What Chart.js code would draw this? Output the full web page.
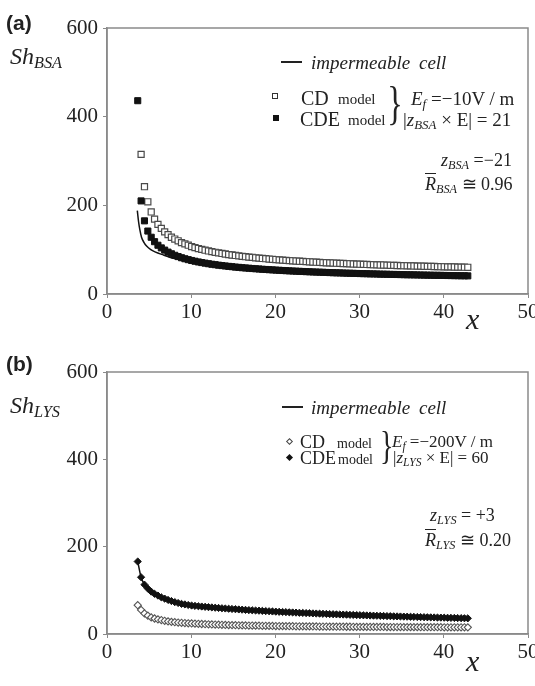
<!DOCTYPE html>
<html>
<head>
<meta charset="utf-8">
<script src="https://cdn.jsdelivr.net/npm/chart.js@4.4.1/dist/chart.umd.min.js"></script>
<style>
  body { margin: 0; background: #fff; }
  #wrap { position: relative; width: 535px; height: 686px; overflow: hidden; font-family: "Liberation Serif", serif; color: #222; }
  canvas { position: absolute; left: 0; }
  .t { position: absolute; white-space: nowrap; line-height: 1; }
  .i { font-style: italic; }
  sub { font-size: 0.68em; vertical-align: -0.25em; line-height: 0; }
  .panel { font-family: "Liberation Sans", Arial, sans-serif; font-weight: bold; font-size: 21px; }
  .dash { position: absolute; height: 2px; background: #222; width: 21px; }
  .mk { position: absolute; box-sizing: border-box; }
</style>
</head>
<body>
<div id="wrap">
  <canvas id="chartA" width="535" height="343" style="top:0"></canvas>
  <canvas id="chartB" width="535" height="343" style="top:343px"></canvas>

  <!-- panel (a) labels -->
  <div class="t panel" style="left:6px;top:12px">(a)</div>
  <div class="t i" style="left:10px;top:44px;font-size:24px">Sh<sub>BSA</sub></div>
  <div class="dash" style="left:281px;top:61px"></div>
  <div class="t i" style="left:311px;top:53px;font-size:19px;word-spacing:4px">impermeable cell</div>
  <div class="mk" style="left:272px;top:93px;width:6px;height:6px;border:1px solid #333"></div>
  <div class="t" style="left:301px;top:88px;font-size:20px">CD</div>
  <div class="t" style="left:338px;top:92px;font-size:15px">model</div>
  <div class="t" style="left:384px;top:81px;font-size:46px;transform:scaleX(0.7)">}</div>
  <div class="t" style="left:411px;top:89px;font-size:19px"><span class="i">E<sub>f</sub></span> =&minus;10V / m</div>
  <div class="mk" style="left:273px;top:115px;width:6px;height:6px;background:#111"></div>
  <div class="t" style="left:300px;top:109px;font-size:20px">CDE</div>
  <div class="t" style="left:348px;top:113px;font-size:15px">model</div>
  <div class="t" style="left:403px;top:110px;font-size:19px">|<span class="i">z<sub>BSA</sub></span> &times; E| = 21</div>
  <div class="t" style="left:441px;top:151px;font-size:18px"><span class="i">z<sub>BSA</sub></span> =&minus;21</div>
  <div class="t" style="left:425px;top:175px;font-size:18px"><span class="i"><span style="text-decoration:overline">R</span><sub>BSA</sub></span> &cong; 0.96</div>
  <div class="t i" style="left:466px;top:304px;font-size:30px">x</div>

  <!-- panel (b) labels -->
  <div class="t panel" style="left:6px;top:353px">(b)</div>
  <div class="t i" style="left:10px;top:393px;font-size:24px">Sh<sub>LYS</sub></div>
  <div class="dash" style="left:282px;top:406px"></div>
  <div class="t i" style="left:311px;top:398px;font-size:19px;word-spacing:4px">impermeable cell</div>
  <div class="mk" style="left:287px;top:439px;width:5px;height:5px;border:1px solid #444;transform:rotate(45deg)"></div>
  <div class="t" style="left:300px;top:433px;font-size:18px">CD</div>
  <div class="t" style="left:337px;top:437px;font-size:14px">model</div>
  <div class="t" style="left:377px;top:426px;font-size:40px;transform:scaleX(0.7)">}</div>
  <div class="t" style="left:392px;top:433px;font-size:17px"><span class="i">E<sub>f</sub></span> =&minus;200V / m</div>
  <div class="mk" style="left:287px;top:455px;width:5px;height:5px;background:#111;transform:rotate(45deg)"></div>
  <div class="t" style="left:300px;top:449px;font-size:18px">CDE</div>
  <div class="t" style="left:338px;top:453px;font-size:14px">model</div>
  <div class="t" style="left:393px;top:449px;font-size:17px">|<span class="i">z<sub>LYS</sub></span> &times; E| = 60</div>
  <div class="t" style="left:430px;top:506px;font-size:18px"><span class="i">z<sub>LYS</sub></span> = +3</div>
  <div class="t" style="left:425px;top:531px;font-size:18px"><span class="i"><span style="text-decoration:overline">R</span><sub>LYS</sub></span> &cong; 0.20</div>
  <div class="t i" style="left:466px;top:646px;font-size:30px">x</div>
</div>

<script>
// shared x positions of the model points
const xPts = [
  3.65, 4.05, 4.45, 4.85, 5.25, 5.65, 6.05, 6.45, 6.85, 7.25,
  7.65, 8.05, 8.45, 8.85, 9.25, 9.65, 10.05, 10.45, 10.85, 11.25,
  11.65, 12.05, 12.45, 12.85, 13.25, 13.65, 14.05, 14.45, 14.85, 15.25,
  15.65, 16.05, 16.45, 16.85, 17.25, 17.65, 18.05, 18.45, 18.85, 19.25,
  19.65, 20.05, 20.45, 20.85, 21.25, 21.65, 22.05, 22.45, 22.85, 23.25,
  23.65, 24.05, 24.45, 24.85, 25.25, 25.65, 26.05, 26.45, 26.85, 27.25,
  27.65, 28.05, 28.45, 28.85, 29.25, 29.65, 30.05, 30.45, 30.85, 31.25,
  31.65, 32.05, 32.45, 32.85, 33.25, 33.65, 34.05, 34.45, 34.85, 35.25,
  35.65, 36.05, 36.45, 36.85, 37.25, 37.65, 38.05, 38.45, 38.85, 39.25,
  39.65, 40.05, 40.45, 40.85, 41.25, 41.65, 42.05, 42.45, 42.85
];

// (a) BSA
const bsaCD = [
  null, 315, 242, 208, 185, 169, 157, 148, 140, 134,
  128, 124, 120, 116, 113, 110, 107, 104.6, 102.5, 100.6,
  98.8, 97.1, 95.5, 94.1, 92.7, 91.4, 90.2, 89.0, 88.0, 86.9,
  86.0, 85.0, 84.1, 83.3, 82.5, 81.7, 81.0, 80.2, 79.6, 78.9,
  78.3, 77.7, 77.1, 76.5, 75.9, 75.4, 74.9, 74.4, 73.9, 73.5,
  73.0, 72.6, 72.1, 71.7, 71.3, 70.9, 70.5, 70.2, 69.8, 69.4,
  69.1, 68.8, 68.4, 68.1, 67.8, 67.5, 67.2, 66.9, 66.6, 66.3,
  66.1, 65.8, 65.5, 65.3, 65.0, 64.8, 64.5, 64.3, 64.1, 63.8,
  63.6, 63.4, 63.2, 63.0, 62.8, 62.6, 62.4, 62.2, 62.0, 61.8,
  61.6, 61.4, 61.2, 61.1, 60.9, 60.7, 60.5, 60.4, 60.2
];
const bsaCDE = [
  436, 210, 165, 142, 128, 118, 110, 104, 99, 94.5,
  90.7, 87.3, 84.4, 81.8, 79.5, 77.5, 75.6, 73.9, 72.3, 70.9,
  69.6, 68.3, 67.1, 66.1, 65.0, 64.1, 63.2, 62.3, 61.6, 60.7,
  60.1, 59.3, 58.7, 58.1, 57.5, 56.9, 56.4, 55.8, 55.3, 54.8,
  54.4, 53.9, 53.5, 53.0, 52.6, 52.2, 51.8, 51.5, 51.1, 50.8,
  50.4, 50.1, 49.7, 49.5, 49.2, 48.9, 48.6, 48.3, 48.0, 47.7,
  47.5, 47.3, 47.0, 46.8, 46.6, 46.3, 46.1, 45.9, 45.7, 45.4,
  45.3, 45.1, 44.8, 44.7, 44.5, 44.3, 44.1, 44.0, 43.8, 43.6,
  43.4, 43.3, 43.1, 43.0, 42.8, 42.7, 42.5, 42.4, 42.2, 42.1,
  42.0, 41.8, 41.7, 41.6, 41.4, 41.3, 41.1, 41.1, 40.9
];
const bsaCellX = [3.6, 3.75, 3.9, 4.1, 4.4, 4.7, 5.2, 5.7, 6.7, 8, 10, 13, 16, 20, 25, 30, 35, 40, 43];
const bsaCellY = [188, 163, 145, 128, 116, 108, 100, 95, 88, 80, 72, 64, 58, 53, 49, 45.5, 42.5, 39.5, 38];

// (b) LYS
const lysCD = [
  66, 55, 47, 42, 38, 35.5, 33.5, 32, 30.3, 29.0,
  27.8, 27.0, 26.3, 25.7, 25.1, 24.6, 24.1, 23.7, 23.3, 22.9,
  22.5, 22.2, 21.9, 21.6, 21.3, 21.1, 20.8, 20.6, 20.4, 20.2,
  20.0, 19.8, 19.6, 19.4, 19.3, 19.1, 19.0, 18.8, 18.7, 18.6,
  18.5, 18.3, 18.2, 18.1, 18.0, 17.9, 17.8, 17.7, 17.6, 17.5,
  17.4, 17.4, 17.3, 17.2, 17.1, 17.1, 17.0, 16.9, 16.9, 16.8,
  16.7, 16.7, 16.6, 16.6, 16.5, 16.4, 16.4, 16.3, 16.3, 16.2,
  16.2, 16.2, 16.1, 16.1, 16.0, 16.0, 15.9, 15.9, 15.9, 15.8,
  15.8, 15.7, 15.7, 15.7, 15.6, 15.6, 15.6, 15.5, 15.5, 15.5,
  15.5, 15.4, 15.4, 15.4, 15.3, 15.3, 15.3, 15.3, 15.2
];
const lysCDE = [
  166, 130, 113, 104, 97, 92, 88, 84, 81, 78,
  75.5, 73, 71, 69, 67.8, 66.4, 65.2, 64.4, 63.6, 62.9,
  62.2, 61.5, 60.9, 60.2, 59.6, 59.0, 58.4, 57.8, 57.3, 56.8,
  56.2, 55.7, 55.2, 54.7, 54.3, 53.8, 53.4, 52.9, 52.5, 52.1,
  51.6, 51.2, 50.8, 50.4, 50.1, 49.7, 49.3, 49.0, 48.6, 48.2,
  47.9, 47.6, 47.2, 46.9, 46.6, 46.3, 46.0, 45.6, 45.3, 45.0,
  44.7, 44.5, 44.2, 43.9, 43.6, 43.3, 43.1, 42.8, 42.5, 42.3,
  42.0, 41.8, 41.5, 41.3, 41.0, 40.8, 40.5, 40.3, 40.1, 39.8,
  39.6, 39.4, 39.2, 38.9, 38.7, 38.5, 38.3, 38.1, 37.9, 37.7,
  37.5, 37.3, 37.1, 36.9, 36.7, 36.5, 36.3, 36.1, 35.9
];
const lysCellX = [3.65, 4.05, 4.45, 5, 6, 7, 8, 10, 13, 16, 20, 25, 30, 35, 40, 43];
const lysCellY = [166, 130, 113, 101, 88, 80, 74, 65, 59, 55, 51, 47, 43, 40, 37.5, 36];

const xTicks = [0, 10, 20, 30, 40, 50];
const yTicks = [0, 200, 400, 600];

const AXIS = '#8a8a8a';

function pts(xs, ys) {
  return xs.map((x, i) => ({ x: x, y: ys[i] }));
}

const frame = {
  id: 'frame',
  afterDatasetsDraw(chart) {
    const a = chart.chartArea, c = chart.ctx;
    c.save();
    c.strokeStyle = AXIS;
    c.lineWidth = 1.5;
    c.strokeRect(a.left, a.top, a.right - a.left, a.bottom - a.top);
    c.restore();
  }
};

function makePanel(id, sets, areaTop, areaBottom) {
  const canvas = document.getElementById(id);
  const H = canvas.height;
  const tickFont = { family: 'Liberation Serif', size: 21 };
  return new Chart(canvas, {
    type: 'scatter',
    data: { datasets: sets },
    options: {
      responsive: false,
      animation: false,
      layout: { padding: { top: areaTop, right: 7, left: 0, bottom: 0 } },
      plugins: { legend: { display: false }, tooltip: { enabled: false } },
      scales: {
        x: {
          type: 'linear', min: xTicks[0], max: xTicks[xTicks.length - 1],
          afterBuildTicks: s => { s.ticks = xTicks.map(v => ({ value: v })); },
          ticks: { color: '#222', font: tickFont, padding: 2, maxRotation: 0 },
          grid: { drawOnChartArea: false, color: AXIS, tickLength: 4 },
          border: { color: AXIS, width: 1.5 },
          afterFit: s => { s.height = H - areaBottom; s.paddingLeft = 0; s.paddingRight = 0; }
        },
        y: {
          type: 'linear', min: yTicks[0], max: yTicks[yTicks.length - 1],
          afterBuildTicks: s => { s.ticks = yTicks.map(v => ({ value: v })); },
          ticks: { color: '#222', font: tickFont, padding: 5 },
          grid: { drawOnChartArea: false, color: AXIS, tickLength: 4 },
          border: { color: AXIS, width: 1.5 },
          afterFit: s => { s.width = 107; s.paddingTop = 0; s.paddingBottom = 0; }
        }
      }
    },
    plugins: [frame]
  });
}

makePanel('chartA', [
  { label: 'impermeable cell', data: pts(bsaCellX, bsaCellY), showLine: true, pointRadius: 0,
    borderColor: '#111', borderWidth: 1.5, cubicInterpolationMode: 'monotone', order: 3 },
  { label: 'CD model', data: pts(xPts, bsaCD), pointStyle: 'rect', pointRadius: 4.3,
    backgroundColor: '#fff', borderColor: '#4a4a4a', borderWidth: 1.2, order: 2 },
  { label: 'CDE model', data: pts(xPts, bsaCDE), pointStyle: 'rect', pointRadius: 4.3,
    backgroundColor: '#111', borderColor: '#111', borderWidth: 1, order: 1 }
], 28, 294);

makePanel('chartB', [
  { label: 'impermeable cell', data: pts(lysCellX, lysCellY), showLine: true, pointRadius: 0,
    borderColor: '#111', borderWidth: 1.5, cubicInterpolationMode: 'monotone', order: 3 },
  { label: 'CD model', data: pts(xPts, lysCD), pointStyle: 'rectRot', pointRadius: 3.6,
    backgroundColor: '#fff', borderColor: '#555', borderWidth: 1.1, order: 2 },
  { label: 'CDE model', data: pts(xPts, lysCDE), pointStyle: 'rectRot', pointRadius: 3.6,
    backgroundColor: '#111', borderColor: '#111', borderWidth: 1, order: 1 }
], 29, 291);
</script>
</body>
</html>
